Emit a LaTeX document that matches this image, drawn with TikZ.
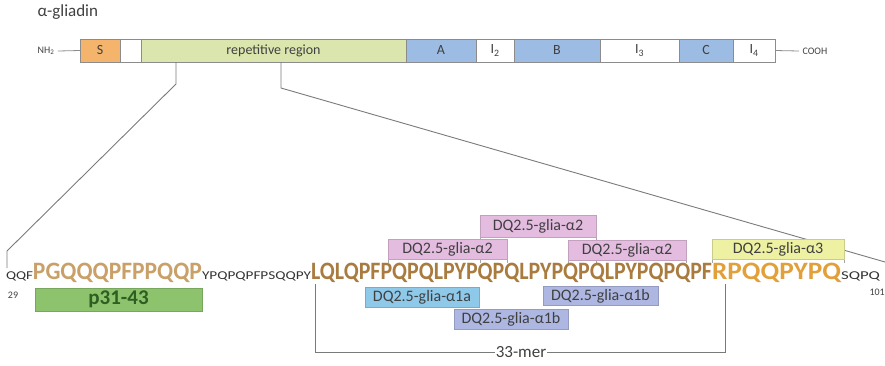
\documentclass[tikz,border=0pt]{standalone}
\usepackage{fontspec}
\setmainfont{Carlito}
\usepackage{graphicx}
\usetikzlibrary{positioning,backgrounds}

% domain bar colours
\definecolor{sorange}{HTML}{F4B46C}
\definecolor{repgreen}{HTML}{DAE6AE}
\definecolor{domblue}{HTML}{9DBCE4}
\definecolor{domline}{HTML}{8C8C8C}
% epitope boxes
\definecolor{pgreen}{HTML}{8DC36C}
\definecolor{pgreentext}{HTML}{2F5E22}
\definecolor{epipink}{HTML}{E4BCDF}
\definecolor{epiyellow}{HTML}{EEF1A2}
\definecolor{epiblue}{HTML}{8FC9EA}
\definecolor{epilav}{HTML}{ADB7E2}
% sequence letters
\definecolor{seqtan}{HTML}{C9A067}
\definecolor{seqbrown}{HTML}{A97B3F}
\definecolor{seqorange}{HTML}{E2A03A}
\definecolor{linegray}{HTML}{7A7A7A}

\newcommand{\fitto}[2]{\resizebox{#1}{\height}{#2}}

\tikzset{
  dom/.style={draw=domline, line width=0.8pt, minimum height=23, inner sep=0, outer sep=0,
    font=\fontsize{14}{14}\selectfont, text=black!75},
  epi/.style={draw=#1!85!black, line width=0.5pt, fill=#1, minimum height=20, inner sep=0,
    font=\fontsize{16}{16}\selectfont, text=black!75},
  seqbig/.style={inner sep=0, outer sep=0, font=\fontsize{25}{25}\selectfont\bfseries},
  seqsmall/.style={inner sep=0, outer sep=0, font=\fontsize{12}{12}\selectfont, text=black!80},
  zoomline/.style={draw=linegray, line width=0.9pt},
  guide/.style={draw=black!35, line width=0.4pt}
}

\begin{document}
\begin{tikzpicture}[x=1pt, y=-1pt]
  \useasboundingbox (0,0) rectangle (885,365);

  \node[anchor=base west, font=\fontsize{17}{17}\selectfont, text=black!75] (title) at (34,16) {α-gliadin};

  % protein domains
  \node[dom, fill=sorange, minimum width=40] (S) at (100,50.5) {S};
  \node[dom, fill=white, minimum width=21, right=0pt of S] (sig) {};
  \node[dom, fill=repgreen, minimum width=265, right=0pt of sig] (rep) {repetitive region};
  \node[dom, fill=domblue, minimum width=70, right=0pt of rep] (A) {A};
  \node[dom, fill=white, minimum width=38, right=0pt of A] (I2) {I\textsubscript{2}};
  \node[dom, fill=domblue, minimum width=86, right=0pt of I2] (B) {B};
  \node[dom, fill=white, minimum width=79, right=0pt of B] (I3) {I\textsubscript{3}};
  \node[dom, fill=domblue, minimum width=54, right=0pt of I3] (C) {C};
  \node[dom, fill=white, minimum width=42, right=0pt of C] (I4) {I\textsubscript{4}};

  \node[font=\fontsize{10}{10}\selectfont, text=black!75] (nh) at (46,51) {NH\textsubscript{2}};
  \node[anchor=west, font=\fontsize{10}{10}\selectfont, text=black!75] (cooh) at (799,51) {COOH};
  \draw[domline, line width=0.8pt] (nh.east) -- (S.west);
  \draw[domline, line width=0.8pt] (I4.east) -- (cooh.west);

  % zoom into the repetitive region
  \coordinate (zl0) at (176,62);
  \coordinate (zl1) at (176,84);
  \coordinate (zl2) at (7,251);
  \coordinate (zl3) at (7,268);
  \coordinate (zr0) at (281,62);
  \coordinate (zr1) at (281,88);
  \coordinate (zr2) at (885,262);
  \draw[zoomline] (zl0) -- (zl1) -- (zl2) -- (zl3);
  \draw[zoomline] (zr0) -- (zr1) -- (zr2);

  % sequence 29-101
  \node[seqsmall, anchor=base west] (s1) at (6,279) {\fitto{27pt}{QQF}};
  \node[seqbig, text=seqtan, anchor=base west] (s2) at (s1.base east) {\fitto{169pt}{PGQQQPFPPQQP}};
  \node[seqsmall, anchor=base west] (s3) at (s2.base east) {\fitto{109pt}{YPQPQPFPSQQPY}};
  \node[seqbig, text=seqbrown, anchor=base west] (s4) at (s3.base east) {\fitto{401pt}{LQLQPFPQPQLPYPQPQLPYPQPQLPYPQPQPF}};
  \node[seqbig, text=seqorange, anchor=base west] (s5) at (s4.base east) {\fitto{129pt}{RPQQPYPQ}};
  \node[seqsmall, anchor=base west] (s6) at (s5.base east) {\fitto{39pt}{SQPQ}};
  \node[font=\fontsize{10}{10}\selectfont, text=black!75] (n29) at (13,295) {29};
  \node[anchor=west, font=\fontsize{10}{10}\selectfont, text=black!75] (n101) at (866,292) {101};

  % epitopes
  \node[epi=epipink, minimum width=116, minimum height=22] (a2top) at (538,226) {DQ2.5-glia-α2};
  \node[epi=epipink, minimum width=119] (a2left) at (447.5,249.5) {DQ2.5-glia-α2};
  \node[epi=epipink, minimum width=118] (a2right) at (627,250) {DQ2.5-glia-α2};
  \node[epi=epiyellow, minimum width=132, minimum height=20] (a3) at (778,249) {DQ2.5-glia-α3};
  \node[epi=epiblue, minimum width=114] (a1a) at (422,297) {DQ2.5-glia-α1a};
  \node[epi=epilav, minimum width=115, minimum height=19] (a1b) at (600.5,296) {DQ2.5-glia-α1b};
  \node[epi=epilav, minimum width=114] (a1bl) at (511,319) {DQ2.5-glia-α1b};
  \node[epi=pgreen, minimum width=167, minimum height=23, text=pgreentext,
    font=\fontsize{21}{21}\selectfont\bfseries] (p31) at (118.5,299.5) {p31-43};

  % epitope marks down to the residues
  \coordinate (seqtop) at (0,263);
  \begin{pgfonlayer}{background}
    \foreach \e in {a2top,a2left,a2right,a3} {
      \draw[guide] (\e.south west) -- (\e.south west |- seqtop);
      \draw[guide] (\e.south east) -- (\e.south east |- seqtop);
    }
  \end{pgfonlayer}

  % 33-mer bracket
  \node[font=\fontsize{17}{17}\selectfont, text=black!75, inner sep=1pt] (mer) at (521,352) {33-mer};
  \coordinate (merl) at (315,284);
  \coordinate (merr) at (725,284);
  \draw[linegray, line width=0.8pt] (merl) |- (mer.west);
  \draw[linegray, line width=0.8pt] (mer.east) -| (merr);
\end{tikzpicture}
\end{document}
